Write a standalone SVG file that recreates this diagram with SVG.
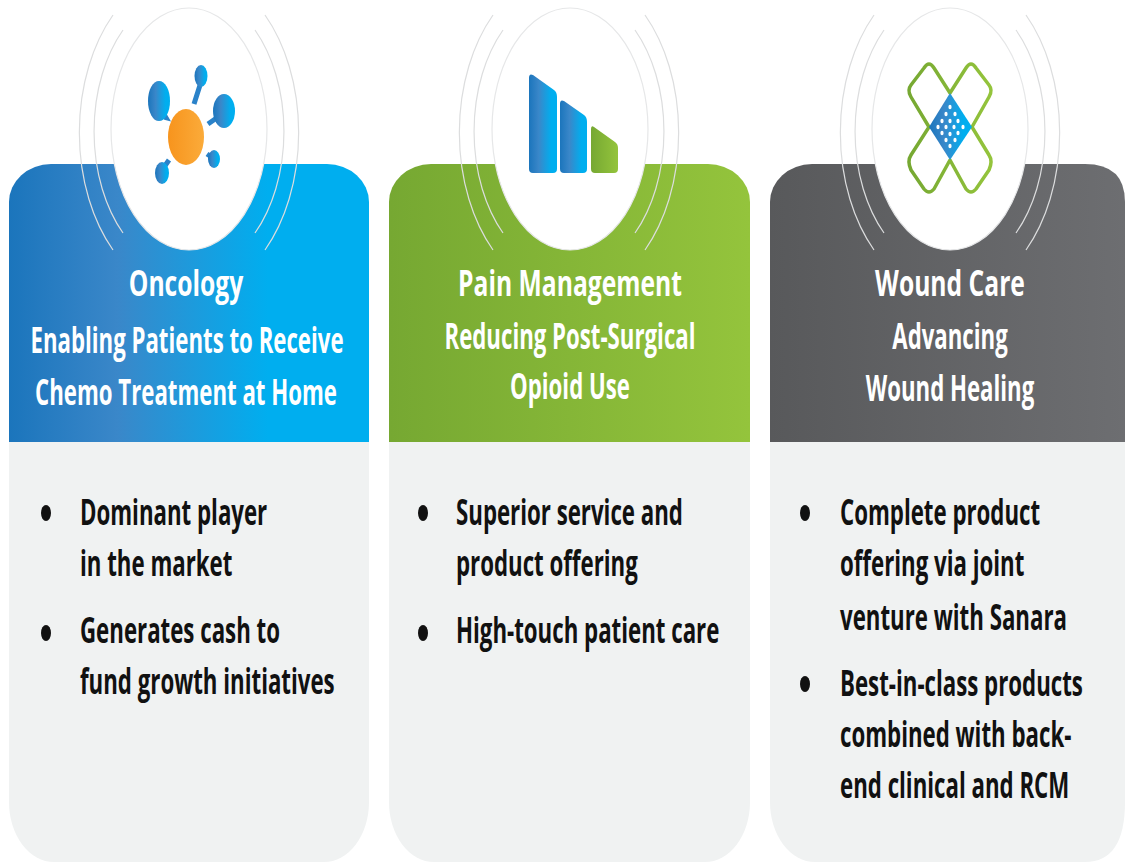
<svg xmlns="http://www.w3.org/2000/svg" width="1125" height="863" viewBox="0 0 1125 863">
<style>
text{font-family:"Open Sans","Liberation Sans",sans-serif;font-weight:700}
.h{fill:#fff;text-anchor:middle}
.t1{font-size:29px}.t2{font-size:26px}
.b{fill:#111;font-size:28px}
.o{fill:none;stroke:#dcddde;stroke-width:1.2}
.w{fill:#fff;stroke:#e6e7e8;stroke-width:1.2}
.body{fill:#f0f2f2}
.d{fill:#111}
.c{stroke:#2a82c9;stroke-width:5;fill:none}
.x{fill:none;stroke:url(#gr);stroke-width:3.5;stroke-linejoin:round}
</style>
<defs>
<linearGradient id="bl" x1="0" x2="1" y1="0" y2="0"><stop offset="0" stop-color="#1b75bc"/><stop offset=".3" stop-color="#3a87c9"/><stop offset=".72" stop-color="#00aeef"/><stop offset="1" stop-color="#00aeef"/></linearGradient>
<linearGradient id="gr" x1="0" x2="1" y1="0" y2="0"><stop offset="0" stop-color="#76a832"/><stop offset="1" stop-color="#94c43c"/></linearGradient>
<linearGradient id="gy" x1="0" x2="1" y1="0" y2="0"><stop offset="0" stop-color="#58595b"/><stop offset="1" stop-color="#6d6e71"/></linearGradient>
<linearGradient id="ic" x1="0" x2="1" y1="0" y2="0"><stop offset="0" stop-color="#1b75bc"/><stop offset=".35" stop-color="#3a87c9"/><stop offset=".8" stop-color="#00aeef"/></linearGradient>
<linearGradient id="or" x1="0" x2="1" y1="0" y2="0"><stop offset="0" stop-color="#f7941d"/><stop offset="1" stop-color="#fbab3a"/></linearGradient>
</defs>
<rect width="1125" height="863" fill="#fff"/>

<g id="card-oncology">
<path class="body" d="M9 442H369V802A45 60 0 0 1 324 862H54A45 60 0 0 1 9 802Z"/>
<path fill="url(#bl)" d="M9 442V202A42 38 0 0 1 51 164H327A42 38 0 0 1 369 202V442Z"/>
<path class="o" d="M123 30A93 140 0 0 0 123 233M113 15A108 162 0 0 0 113 250M255 30A93 140 0 0 1 255 233M265 15A108 162 0 0 1 265 250"/>
<ellipse class="w" cx="189" cy="129" rx="78" ry="121"/>
<g id="icon-oncology">
<path class="c" d="M194 104L201 82M208 124L218 117M207 154L213 158M169 160L162 170"/>
<path d="M162 108L169 120L165 119Z" fill="#2a82c9" stroke="#2a82c9" stroke-width="2"/>
<ellipse cx="159" cy="101" rx="11" ry="20" fill="url(#ic)"/>
<ellipse cx="201" cy="76" rx="6.5" ry="11" fill="url(#ic)"/>
<ellipse cx="224" cy="111" rx="11" ry="17" fill="url(#ic)"/>
<ellipse cx="214" cy="159" rx="6" ry="9" fill="url(#ic)"/>
<ellipse cx="162" cy="173" rx="7" ry="11" fill="url(#ic)"/>
<ellipse cx="186" cy="137" rx="18" ry="28" fill="url(#or)"/>
</g>
<text class="h t1" transform="translate(186 296) scale(.85 1.26)">Oncology</text>
<text class="h t2" transform="translate(187 353) scale(.855 1.35)">Enabling Patients to Receive</text>
<text class="h t2" transform="translate(186 405) scale(.855 1.35)">Chemo Treatment at Home</text>
<ellipse class="d" cx="46" cy="513" rx="5" ry="8"/><ellipse class="d" cx="46" cy="633" rx="5" ry="8"/>
<text class="b" transform="translate(80 525) scale(.795 1.3)">Dominant player</text>
<text class="b" transform="translate(80 576) scale(.795 1.3)">in the market</text>
<text class="b" transform="translate(80 643) scale(.795 1.3)">Generates cash to</text>
<text class="b" transform="translate(80 694) scale(.795 1.3)">fund growth initiatives</text>
</g>

<g id="card-pain">
<path class="body" d="M389 442H750V802A45 60 0 0 1 705 862H434A45 60 0 0 1 389 802Z"/>
<path fill="url(#gr)" d="M389 442V202A42 38 0 0 1 431 164H708A42 38 0 0 1 750 202V442Z"/>
<path class="o" d="M503 30A93 140 0 0 0 503 233M493 15A108 162 0 0 0 493 250M635 30A93 140 0 0 1 635 233M645 15A108 162 0 0 1 645 250"/>
<ellipse class="w" cx="570" cy="129" rx="78" ry="121"/>
<g id="icon-pain">
<path fill="url(#ic)" d="M529 78Q529 73 533 75L554 90Q557 92 557 97V169Q557 173 553 173H533Q529 173 529 169Z"/>
<path fill="url(#ic)" d="M560 104Q560 99 564 101L584 115Q587 117 587 122V169Q587 173 583 173H564Q560 173 560 169Z"/>
<path fill="url(#gr)" d="M591 129Q591 125 594 127L615 142Q618 144 618 148V169Q618 173 614 173H595Q591 173 591 169Z"/>
</g>
<text class="h t1" transform="translate(570 296) scale(.85 1.26)">Pain Management</text>
<text class="h t2" transform="translate(570 349) scale(.855 1.35)">Reducing Post-Surgical</text>
<text class="h t2" transform="translate(570 399) scale(.855 1.35)">Opioid Use</text>
<ellipse class="d" cx="423" cy="513" rx="5" ry="8"/><ellipse class="d" cx="423" cy="633" rx="5" ry="8"/>
<text class="b" transform="translate(456 525) scale(.795 1.3)">Superior service and</text>
<text class="b" transform="translate(456 576) scale(.795 1.3)">product offering</text>
<text class="b" transform="translate(456 643) scale(.795 1.3)">High-touch patient care</text>
</g>

<g id="card-wound">
<path class="body" d="M770 442H1125V802Q1125 862 1085 862H815A45 60 0 0 1 770 802Z"/>
<path fill="url(#gy)" d="M770 442V202A42 38 0 0 1 812 164H1085Q1125 164 1125 202V442Z"/>
<path class="o" d="M884 30A93 140 0 0 0 884 233M874 15A108 162 0 0 0 874 250M1016 30A93 140 0 0 1 1016 233M1026 15A108 162 0 0 1 1026 250"/>
<ellipse class="w" cx="950" cy="129" rx="78" ry="121"/>
<g id="icon-wound">
<path class="x" d="M950 93L934 68Q929 60 924 68L911 85Q907 90 911 97L929 127L911 155Q907 161 911 170L924 189Q929 195 934 189L950 160L966 189Q971 195 976 189L989 170Q993 161 989 155L972 127L989 97Q993 90 989 85L976 68Q971 60 966 68Z"/>
<path fill="url(#ic)" d="M950 93L972 127L950 160L929 127Z"/>
<g fill="#fff">
<ellipse cx="950" cy="107" rx="1.6" ry="2.2"/><ellipse cx="946" cy="114" rx="1.6" ry="2.2"/><ellipse cx="955" cy="114" rx="1.6" ry="2.2"/><ellipse cx="942" cy="121" rx="1.6" ry="2.2"/><ellipse cx="950" cy="121" rx="1.6" ry="2.2"/><ellipse cx="958" cy="121" rx="1.6" ry="2.2"/><ellipse cx="938" cy="127" rx="1.6" ry="2.2"/><ellipse cx="946" cy="127" rx="1.6" ry="2.2"/><ellipse cx="954" cy="127" rx="1.6" ry="2.2"/><ellipse cx="963" cy="127" rx="1.6" ry="2.2"/><ellipse cx="942" cy="133" rx="1.6" ry="2.2"/><ellipse cx="950" cy="134" rx="1.6" ry="2.2"/><ellipse cx="958" cy="133" rx="1.6" ry="2.2"/><ellipse cx="946" cy="140" rx="1.6" ry="2.2"/><ellipse cx="955" cy="140" rx="1.6" ry="2.2"/><ellipse cx="950" cy="146" rx="1.6" ry="2.2"/>
</g>
</g>
<text class="h t1" transform="translate(950 296) scale(.85 1.26)">Wound Care</text>
<text class="h t2" transform="translate(950 349) scale(.855 1.35)">Advancing</text>
<text class="h t2" transform="translate(950 401) scale(.855 1.35)">Wound Healing</text>
<ellipse class="d" cx="805" cy="513" rx="5" ry="8"/><ellipse class="d" cx="805" cy="684" rx="5" ry="8"/>
<text class="b" transform="translate(840 525) scale(.795 1.3)">Complete product</text>
<text class="b" transform="translate(840 576) scale(.795 1.3)">offering via joint</text>
<text class="b" transform="translate(840 630) scale(.795 1.3)">venture with Sanara</text>
<text class="b" transform="translate(840 696) scale(.795 1.3)">Best-in-class products</text>
<text class="b" transform="translate(840 747) scale(.795 1.3)">combined with back-</text>
<text class="b" transform="translate(840 798) scale(.795 1.3)">end clinical and RCM</text>
</g>
</svg>
